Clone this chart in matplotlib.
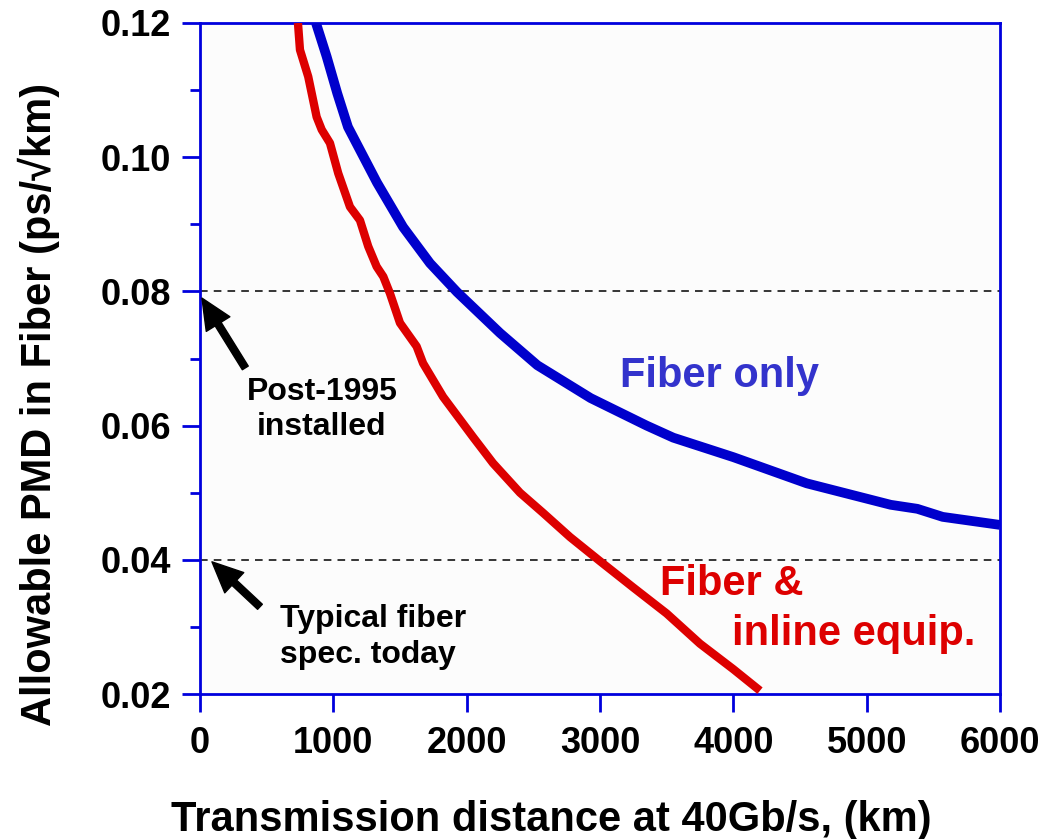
import numpy as np
import matplotlib.pyplot as plt

plt.rcParams['font.family'] = ['Liberation Sans', 'DejaVu Sans']
plt.rcParams['font.weight'] = 'bold'
plt.rcParams['axes.labelweight'] = 'bold'

# Fiber only (blue)
fiber_km = [870, 950, 1030, 1110, 1328, 1523, 1725, 1928, 2250,
            2530, 2930, 3350, 3550, 4000, 4550, 5180, 5380, 5570, 6000]
fiber_pmd = [0.1200, 0.1150, 0.1095, 0.1045, 0.0962, 0.0896, 0.0842, 0.0799,
             0.0738, 0.0690, 0.0641, 0.0600, 0.0582, 0.0553, 0.0514, 0.0482,
             0.0476, 0.0464, 0.0452]

# Fiber & inline equipment (red)
inline_km = [735, 750, 812, 875, 913, 975, 1037, 1125, 1200, 1262, 1325, 1375,
             1425, 1500, 1625, 1673, 1823, 2048, 2198, 2400, 2573, 2775, 3000,
             3248, 3500, 3750, 4000, 4200]
inline_pmd = [0.1200, 0.1160, 0.1120, 0.1060, 0.1041, 0.1021, 0.0976, 0.0926,
              0.0906, 0.0867, 0.0837, 0.0822, 0.0797, 0.0753, 0.0718, 0.0693,
              0.0643, 0.0583, 0.0544, 0.0500, 0.0470, 0.0434, 0.0398, 0.0359,
              0.0320, 0.0275, 0.0237, 0.0205]

ref_levels = [0.08, 0.04]
xticks = [0, 1000, 2000, 3000, 4000, 5000, 6000]
yticks = [0.02, 0.04, 0.06, 0.08, 0.10, 0.12]

spine_blue = '#0000dd'

fig = plt.figure(figsize=(10.42, 8.39), dpi=100)
ax = fig.add_axes([0.1919, 0.1728, 0.7678, 0.7998])
ax.set_facecolor('#fcfcfc')

for lvl in ref_levels:
    ax.axhline(lvl, color='black', lw=1.1, ls=(0, (5, 4)), zorder=1)

ax.plot(fiber_km, fiber_pmd, color='#0000cc', lw=7, solid_capstyle='butt',
        solid_joinstyle='round', zorder=3)
ax.plot(inline_km, inline_pmd, color='#dd0000', lw=6, solid_capstyle='butt',
        solid_joinstyle='round', zorder=3)

ax.set_xlim(0, 6000)
ax.set_ylim(0.02, 0.12)
ax.set_xticks(xticks)
ax.set_yticks(yticks)
ax.set_yticks(np.arange(0.03, 0.12, 0.02), minor=True)
ax.set_xticklabels([str(v) for v in xticks])
ax.set_yticklabels([f'{v:.2f}' for v in yticks])

for s in ax.spines.values():
    s.set_color(spine_blue)
    s.set_linewidth(2)

ax.tick_params(axis='both', which='major', color=spine_blue, width=2, length=13,
               labelsize=26, direction='out')
ax.tick_params(axis='y', which='minor', color=spine_blue, width=2, length=7)
ax.tick_params(axis='y', pad=8)
ax.tick_params(axis='x', pad=10)

ax.set_xlabel('Transmission distance at 40Gb/s, (km)', fontsize=30, labelpad=28)
ax.set_ylabel('Allowable PMD in Fiber (ps/\u221akm)', fontsize=30, labelpad=29)
ax.xaxis.label.set_x(0.439)
ax.yaxis.label.set_y(0.431)

ax.text(3150, 0.0658, 'Fiber only', color='#3333cc', fontsize=30,
        ha='left', va='baseline')
ax.text(3450, 0.0348, 'Fiber &', color='#dd0000', fontsize=30,
        ha='left', va='baseline')
ax.text(3990, 0.0273, 'inline equip.', color='#dd0000', fontsize=30,
        ha='left', va='baseline')

arrow = dict(arrowstyle='simple,head_width=1.0,head_length=1.1,tail_width=0.25',
             color='black', shrinkA=0, shrinkB=0, mutation_scale=20)
ax.annotate('', xy=(15, 0.0790), xytext=(340, 0.0686), arrowprops=arrow)
ax.annotate('', xy=(90, 0.0397), xytext=(450, 0.0330), arrowprops=arrow)

ax.text(915, 0.0638, 'Post-1995', fontsize=23, ha='center', va='baseline')
ax.text(915, 0.0586, 'installed', fontsize=23, ha='center', va='baseline')
ax.text(600, 0.0300, 'Typical fiber', fontsize=23, ha='left', va='baseline')
ax.text(600, 0.0246, 'spec. today', fontsize=23, ha='left', va='baseline')

fig.savefig('out.png', dpi=100)
